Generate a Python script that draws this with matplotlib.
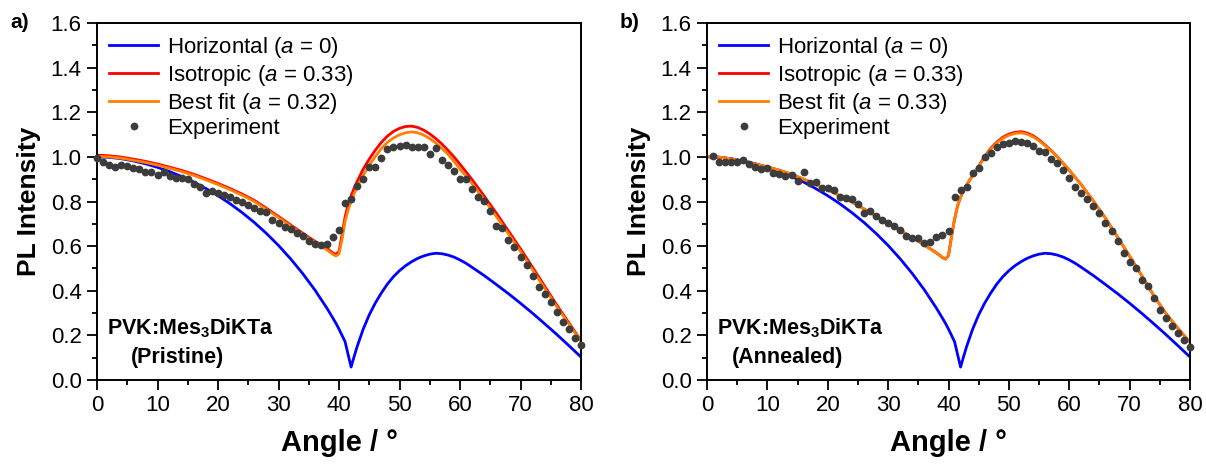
import numpy as np
import matplotlib
matplotlib.use("Agg")
import matplotlib.pyplot as plt
from matplotlib.ticker import MultipleLocator, FormatStrFormatter

plt.rcParams['font.family'] = ['Liberation Sans', 'DejaVu Sans']
plt.rcParams['mathtext.fontset'] = 'custom'
plt.rcParams['mathtext.rm'] = 'Liberation Sans'
plt.rcParams['mathtext.it'] = 'Liberation Sans:italic'
plt.rcParams['mathtext.bf'] = 'Liberation Sans:bold'

# ---- simulated angular profiles ----
sim_angle = [0, 2, 4, 6, 8, 10, 12, 14, 16, 18, 20, 22, 24, 26, 28, 30, 32, 34, 36, 38,
             39, 39.5, 40, 40.5, 41, 41.5, 42, 42.5, 43, 44, 45, 46, 47, 48, 49, 50,
             51, 52, 53, 54, 55, 56, 57, 58, 59, 60, 61, 62, 64, 66, 68, 70, 72, 74,
             76, 78, 80]

horizontal = [1.000, 0.998, 0.992, 0.982, 0.969, 0.953, 0.934, 0.912, 0.887, 0.858,
              0.826, 0.790, 0.750, 0.706, 0.657, 0.603, 0.543, 0.477, 0.404, 0.322,
              0.277, 0.254, 0.228, 0.200, 0.172, 0.115, 0.058, 0.105, 0.150, 0.228,
              0.292, 0.345, 0.390, 0.430, 0.463, 0.490, 0.512, 0.530, 0.545, 0.556,
              0.564, 0.568, 0.566, 0.560, 0.551, 0.538, 0.523, 0.505, 0.468, 0.428,
              0.387, 0.344, 0.299, 0.252, 0.204, 0.154, 0.103]

iso_a = [1.008, 1.005, 0.999, 0.990, 0.980, 0.968, 0.954, 0.939, 0.922, 0.902,
         0.881, 0.858, 0.833, 0.805, 0.770, 0.733, 0.695, 0.658, 0.622, 0.590,
         0.569, 0.564, 0.575, 0.650, 0.730, 0.785, 0.825, 0.860, 0.890, 0.945,
         0.990, 1.030, 1.065, 1.093, 1.114, 1.128, 1.136, 1.138, 1.132, 1.120,
         1.103, 1.082, 1.058, 1.030, 1.000, 0.967, 0.933, 0.898, 0.824, 0.748,
         0.668, 0.588, 0.505, 0.420, 0.336, 0.256, 0.176]

fit_a = [1.003, 1.000, 0.994, 0.985, 0.975, 0.963, 0.949, 0.934, 0.917, 0.897,
         0.876, 0.853, 0.828, 0.800, 0.765, 0.728, 0.690, 0.653, 0.617, 0.583,
         0.563, 0.556, 0.565, 0.630, 0.710, 0.762, 0.800, 0.835, 0.865, 0.918,
         0.962, 1.002, 1.037, 1.065, 1.085, 1.099, 1.108, 1.112, 1.108, 1.098,
         1.082, 1.062, 1.038, 1.012, 0.980, 0.945, 0.913, 0.880, 0.808, 0.733,
         0.655, 0.576, 0.494, 0.410, 0.328, 0.250, 0.172]

fit_b = [1.003, 0.999, 0.991, 0.980, 0.968, 0.955, 0.940, 0.922, 0.900, 0.877,
         0.852, 0.826, 0.798, 0.767, 0.735, 0.703, 0.670, 0.638, 0.605, 0.570,
         0.549, 0.542, 0.558, 0.643, 0.720, 0.780, 0.820, 0.850, 0.874, 0.917,
         0.957, 0.998, 1.035, 1.062, 1.083, 1.097, 1.105, 1.108, 1.102, 1.090,
         1.072, 1.050, 1.027, 1.000, 0.971, 0.940, 0.908, 0.875, 0.802, 0.725,
         0.640, 0.555, 0.468, 0.378, 0.298, 0.232, 0.168]

iso_b = [1.003, 0.999, 0.991, 0.980, 0.968, 0.955, 0.940, 0.922, 0.900, 0.877,
         0.852, 0.826, 0.798, 0.767, 0.735, 0.703, 0.670, 0.638, 0.605, 0.570,
         0.549, 0.542, 0.558, 0.643, 0.720, 0.780, 0.820, 0.850, 0.874, 0.917,
         0.959, 1.001, 1.039, 1.066, 1.088, 1.102, 1.110, 1.113, 1.107, 1.095,
         1.076, 1.053, 1.029, 1.001, 0.971, 0.940, 0.908, 0.875, 0.802, 0.725,
         0.640, 0.555, 0.468, 0.378, 0.298, 0.232, 0.168]

# ---- measured PL intensity ----
exp_angle_a = list(range(0, 81))
exp_a = [0.994, 0.975, 0.964, 0.954, 0.964, 0.957, 0.949, 0.945, 0.930, 0.930,
         0.919, 0.934, 0.915, 0.907, 0.904, 0.901, 0.879, 0.864, 0.840, 0.845,
         0.840, 0.830, 0.819, 0.807, 0.800, 0.785, 0.773, 0.758, 0.755, 0.717,
         0.705, 0.685, 0.676, 0.658, 0.646, 0.625, 0.610, 0.605, 0.610, 0.640,
         0.673, 0.792, 0.810, 0.870, 0.900, 0.954, 0.954, 0.994, 1.035, 1.046,
         1.049, 1.054, 1.046, 1.043, 1.046, 1.013, 1.039, 0.984, 0.964, 0.937,
         0.901, 0.900, 0.858, 0.822, 0.804, 0.758, 0.692, 0.683, 0.628, 0.598,
         0.553, 0.516, 0.466, 0.416, 0.384, 0.351, 0.303, 0.259, 0.229, 0.190,
         0.157]

exp_angle_b = list(range(1, 81))
exp_b = [1.006, 0.979, 0.976, 0.976, 0.979, 0.984, 0.967, 0.954, 0.945, 0.949,
         0.927, 0.922, 0.916, 0.919, 0.894, 0.930, 0.882, 0.889, 0.862, 0.860,
         0.852, 0.819, 0.815, 0.810, 0.788, 0.750, 0.759, 0.735, 0.717, 0.705,
         0.688, 0.673, 0.646, 0.638, 0.635, 0.616, 0.617, 0.643, 0.650, 0.670,
         0.819, 0.852, 0.867, 0.927, 0.952, 1.001, 1.016, 1.046, 1.057, 1.064,
         1.073, 1.066, 1.061, 1.049, 1.028, 1.024, 0.991, 0.972, 0.942, 0.907,
         0.867, 0.840, 0.810, 0.780, 0.747, 0.703, 0.670, 0.623, 0.568, 0.531,
         0.501, 0.448, 0.422, 0.366, 0.314, 0.277, 0.244, 0.212, 0.179, 0.147]

panels = [
    dict(tag="a)", iso=iso_a, fit=fit_a, fit_label="0.32",
         ex=exp_angle_a, ey=exp_a, cond="(Pristine)"),
    dict(tag="b)", iso=iso_b, fit=fit_b, fit_label="0.33",
         ex=exp_angle_b, ey=exp_b, cond="(Annealed)"),
]

W, H = 1206, 465
fig = plt.figure(figsize=(W / 100, H / 100), dpi=100)
lefts = [97, 707]
widths = [484, 483]
top_px, bot_px = 23, 380
fs = 16

for i, p in enumerate(panels):
    ax = fig.add_axes([lefts[i] / W, (H - bot_px) / H, widths[i] / W, (bot_px - top_px) / H])
    ax.plot(sim_angle, horizontal, color="#0000FF", lw=2.0,
            label=r"Horizontal ($\mathit{a}$ = 0)")
    ax.plot(sim_angle, p["iso"], color="#FF0000", lw=2.0,
            label=r"Isotropic ($\mathit{a}$ = 0.33)")
    ax.plot(sim_angle, p["fit"], color="#FF7F00", lw=2.0,
            label=r"Best fit ($\mathit{a}$ = %s)" % p["fit_label"])
    ax.plot(p["ex"], p["ey"], "o", color="#3c3c3c", ms=5.6, mec="none",
            label="Experiment", zorder=5, clip_on=False)

    ax.set_xlim(0, 80)
    ax.set_ylim(0, 1.6)
    ax.xaxis.set_major_locator(MultipleLocator(10))
    ax.xaxis.set_minor_locator(MultipleLocator(5))
    ax.yaxis.set_major_locator(MultipleLocator(0.2))
    ax.yaxis.set_minor_locator(MultipleLocator(0.1))
    ax.yaxis.set_major_formatter(FormatStrFormatter("%.1f"))
    ax.tick_params(which="major", direction="out", length=7, width=1.3,
                   labelsize=fs, top=False, right=False, pad=4)
    ax.tick_params(which="minor", direction="out", length=3.5, width=1.3,
                   top=False, right=False)
    for s in ax.spines.values():
        s.set_linewidth(1.4)

    ax.set_xlabel("Angle / °", fontsize=21, fontweight="bold", labelpad=9)
    ax.set_ylabel("PL Intensity", fontsize=19, fontweight="bold", labelpad=7)

    ax.legend(loc="upper left", bbox_to_anchor=(0.0, 1.0), frameon=False,
              fontsize=fs, handlelength=2.2, handletextpad=0.4,
              labelspacing=0.12, borderaxespad=0.25, borderpad=0.3)

    ax.text(0.021, 0.145, r"PVK:Mes$_\mathbf{3}$DiKTa", transform=ax.transAxes,
            fontsize=15.5, fontweight="bold", ha="left", va="center")
    ax.text(0.166, 0.063, p["cond"], transform=ax.transAxes,
            fontsize=15.5, fontweight="bold", ha="center", va="center")

    fig.text((lefts[i] - 87) / W, 1 - 22 / H, p["tag"], fontsize=15,
             fontweight="bold", ha="left", va="center")

fig.savefig("out.png", dpi=100)
